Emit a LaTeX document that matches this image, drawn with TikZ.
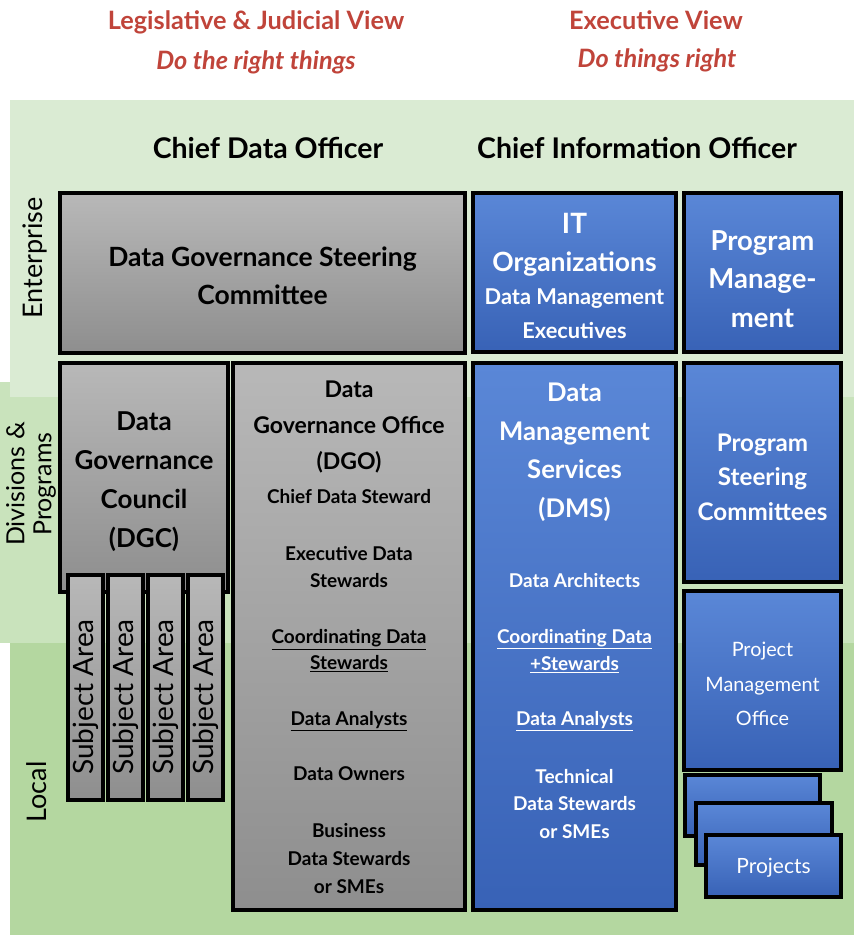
\documentclass[tikz,border=0pt]{standalone}
\usepackage{fontspec}
\setmainfont{Lato}
\definecolor{redt}{HTML}{C0443A}
\definecolor{entcol}{HTML}{DAEBD3}
\definecolor{divcol}{HTML}{C9E3BC}
\definecolor{loccol}{HTML}{B4D7A0}
\definecolor{grayT}{HTML}{B8B8B8}
\definecolor{grayB}{HTML}{8E8E8E}
\definecolor{blueT}{HTML}{5A87D7}
\definecolor{blueB}{HTML}{3862B6}
\newcommand{\fs}[2]{\fontsize{#1}{#2}\selectfont}
\tikzset{
  graybox/.style={draw=black, line width=3.5pt, top color=grayT, bottom color=grayB, rectangle, inner sep=0pt},
  bluebox/.style={draw=black, line width=3.5pt, top color=blueT, bottom color=blueB, rectangle, inner sep=0pt},
  btxt/.style={align=center, inner sep=0pt, font=\bfseries},
  wtxt/.style={align=center, inner sep=0pt, font=\bfseries, text=white},
  side/.style={align=center, inner sep=0pt, rotate=90},
  redtitle/.style={align=center, inner sep=0pt, text=redt}
}
\begin{document}
\begin{tikzpicture}[x=1pt,y=-1pt]
\useasboundingbox (0,0) rectangle (854,935);
% background bands
\fill[divcol] (0,382) rectangle (854,643);
\fill[entcol] (10,100) rectangle (854,397);
\fill[divcol] (10,397) rectangle (854,643);
\fill[loccol] (10,643) rectangle (854,935);

% top titles
\node[redtitle, font=\fs{25.3}{30}\bfseries] (lj) at (256,22) {Legislative \& Judicial View};
\node[redtitle, font=\fs{25.3}{30}\bfseries\itshape] (ljs) at (256,62) {Do the right things};
\node[redtitle, font=\fs{25.3}{30}\bfseries] (ev) at (656,20) {Executive View};
\node[redtitle, font=\fs{25.3}{30}\bfseries\itshape] (evs) at (657,60) {Do things right};

\node[btxt, font=\fs{28.5}{32}\bfseries] (cdo) at (268,148) {Chief Data Officer};
\node[btxt, font=\fs{28.5}{32}\bfseries] (cio) at (637,148) {Chief Information Officer};

% side labels
\node[side, font=\fs{27}{27}] (ent) at (35,258) {Enterprise};
\node[side, font=\fs{25}{27}] (div) at (31,484) {Divisions \&\\Programs};
\node[side, font=\fs{27}{27}] (loc) at (37,792) {Local};

% gray boxes
\node[graybox, minimum width=405pt, minimum height=160pt] (dgsc) at (262.5,273) {};
\node[btxt, font=\fs{26.5}{38}\bfseries] (dgsct) at (262.5,276) {Data Governance Steering\\Committee};

\node[graybox, minimum width=168pt, minimum height=229pt] (dgc) at (144,477.5) {};
\node[btxt, font=\fs{26}{39}\bfseries] (dgct) at (144,482) {Data\\Governance\\Council\\(DGC)};

\foreach \i/\xc in {1/85.5,2/125.5,3/165.5,4/205.5}{
  \node[graybox, minimum width=35pt, minimum height=225pt] (sa\i) at (\xc,687.5) {};
  \node[side, font=\fs{28}{28}] (sat\i) at (\xc,697) {Subject Area};
}

\node[graybox, minimum width=232pt, minimum height=547pt] (dgo) at (349,636.5) {};
\node[btxt, font=\fs{23}{36}\bfseries] (dgot) at (349,427) {Data\\Governance Office\\(DGO)};
\node[btxt, font=\fs{19}{27}\bfseries] (cds) at (349,497) {Chief Data Steward};
\node[btxt, font=\fs{19}{27}\bfseries] (eds) at (349,567) {Executive Data\\Stewards};
\node[btxt, font=\fs{19}{26}\bfseries] (cods) at (349,651) {\underline{Coordinating Data}\\\underline{Stewards}};
\node[btxt, font=\fs{19}{27}\bfseries] (da1) at (349,721) {\underline{Data Analysts}};
\node[btxt, font=\fs{19}{27}\bfseries] (dow) at (349,774) {Data Owners};
\node[btxt, font=\fs{19}{28}\bfseries] (bds) at (349,859) {Business\\Data Stewards\\or SMEs};

% blue boxes
\node[bluebox, minimum width=203pt, minimum height=159pt] (itorg) at (574.5,272.5) {};
\node[wtxt, font=\fs{28}{30}\bfseries] (itt1) at (574.5,223) {IT};
\node[wtxt, font=\fs{26.5}{30}\bfseries] (itt2) at (574.5,264) {Organizations};
\node[wtxt, font=\fs{21.8}{24}\bfseries] (itt3) at (574.5,299) {Data Management};
\node[wtxt, font=\fs{21.8}{24}\bfseries] (itt4) at (574.5,330) {Executives};

\node[bluebox, minimum width=157pt, minimum height=159pt] (pm) at (762.5,272.5) {};
\node[wtxt, font=\fs{27.5}{38.5}\bfseries] (pmt) at (762.5,279) {Program\\Manage-\\ment};

\node[bluebox, minimum width=203pt, minimum height=547pt] (dms) at (574.5,636.5) {};
\node[wtxt, font=\fs{25.7}{38.5}\bfseries] (dmst) at (574.5,452) {Data\\Management\\Services\\(DMS)};
\node[wtxt, font=\fs{19}{27}\bfseries] (dar) at (574.5,581) {Data Architects};
\node[wtxt, font=\fs{19}{27}\bfseries] (cds2) at (574.5,651) {\underline{Coordinating Data}\\\underline{+Stewards}};
\node[wtxt, font=\fs{19}{27}\bfseries] (da2) at (574.5,721) {\underline{Data Analysts}};
\node[wtxt, font=\fs{19}{27.5}\bfseries] (tds) at (574.5,804) {Technical\\Data Stewards\\or SMEs};

\node[bluebox, minimum width=157pt, minimum height=219pt] (psc) at (762.5,472.5) {};
\node[wtxt, font=\fs{24.2}{34.5}\bfseries] (psct) at (762.5,477) {Program\\Steering\\Committees};

\node[bluebox, minimum width=157pt, minimum height=179pt] (pmo) at (762.5,680.5) {};
\node[wtxt, font=\fs{19.8}{34.5}] (pmot) at (762.5,684) {Project\\Management\\Office};

\node[bluebox, minimum width=135pt, minimum height=61pt] (pr1) at (752.5,805.5) {};
\node[bluebox, minimum width=136pt, minimum height=62pt] (pr2) at (764,834) {};
\node[bluebox, minimum width=135pt, minimum height=62pt] (pr3) at (773.5,866) {};
\node[wtxt, font=\fs{21}{24}] (prt) at (773.5,868) {Projects};
\end{tikzpicture}
\end{document}
